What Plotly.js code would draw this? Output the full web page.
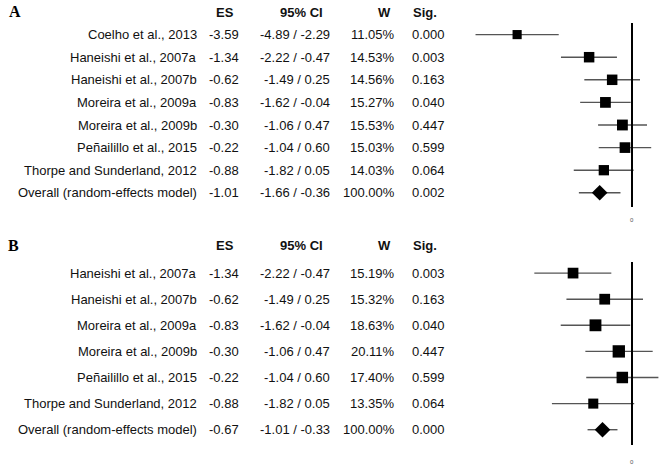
<!DOCTYPE html>
<html>
<head>
<meta charset="utf-8">
<script src="https://cdn.plot.ly/plotly-3.0.1.min.js"></script>
<style>html,body{margin:0;padding:0;background:#fff}</style>
</head>
<body>
<div id="chart" style="width:666px;height:473px"></div>
<script>
// ---------- Panel A data ----------
const studiesA = ["Coelho et al., 2013","Haneishi et al., 2007a","Haneishi et al., 2007b","Moreira et al., 2009a","Moreira et al., 2009b","Peñailillo et al., 2015","Thorpe and Sunderland, 2012","Overall (random-effects model)"];
const esA   = [-3.59,-1.34,-0.62,-0.83,-0.30,-0.22,-0.88,-1.01];
const loA   = [-4.89,-2.22,-1.49,-1.62,-1.06,-1.04,-1.82,-1.66];
const hiA   = [-2.29,-0.47, 0.25,-0.04, 0.47, 0.60, 0.05,-0.36];
const wA    = [11.05,14.53,14.56,15.27,15.53,15.03,14.03,100.00];
const sigA  = [0.000,0.003,0.163,0.040,0.447,0.599,0.064,0.002];

// ---------- Panel B data ----------
const studiesB = ["Haneishi et al., 2007a","Haneishi et al., 2007b","Moreira et al., 2009a","Moreira et al., 2009b","Peñailillo et al., 2015","Thorpe and Sunderland, 2012","Overall (random-effects model)"];
const esB   = [-1.34,-0.62,-0.83,-0.30,-0.22,-0.88,-0.67];
const loB   = [-2.22,-1.49,-1.62,-1.06,-1.04,-1.82,-1.01];
const hiB   = [-0.47, 0.25,-0.04, 0.47, 0.60, 0.05,-0.33];
const wB    = [15.19,15.32,18.63,20.11,17.40,13.35,100.00];
const sigB  = [0.003,0.163,0.040,0.447,0.599,0.064,0.000];

const headers = ["ES","95% CI","W","Sig."];
const panelLabels = ["A","B"];

// ---------- layout helpers ----------
const PW = 666, PH = 473;
const px = v => v / PW;
const py = v => 1 - v / PH;
const txtFont = {family:"Liberation Sans, Arial, sans-serif", size:13, color:"#111"};
const hdrFont = {family:"Liberation Sans, Arial, sans-serif", size:13, color:"#111"};

function fmt(v, d){ return v.toFixed(d); }

function panel(studies, es, lo, hi, w, sig, xa, ya, headerR, zeroR0, zeroR1, zeroLabelR){
  const n = studies.length;
  const rows = studies.map((_, i) => i + 1);
  const isOverall = rows.map(r => r === n);
  const sizes = w.map((v, i) => isOverall[i] ? 12 : 2.75 * Math.sqrt(v));
  const symbols = isOverall.map(o => o ? "diamond" : "square");
  const trace = {
    type: "scatter", mode: "markers", x: es, y: rows, xaxis: xa, yaxis: ya,
    marker: {symbol: symbols, size: sizes, color: "#000", opacity: 1, line: {width: 0}},
    error_x: {type: "data", symmetric: false,
      array: hi.map((h, i) => h - es[i]), arrayminus: es.map((e, i) => e - lo[i]),
      color: "#555", thickness: 1.4, width: 0},
    hoverinfo: "skip", showlegend: false
  };
  const yref = ya;
  const ann = [];
  rows.forEach((r, i) => {
    ann.push({xref:"paper", yref, x: px(199), y: r, xanchor:"right", yanchor:"middle", text: studies[i], showarrow:false, font: txtFont});
    ann.push({xref:"paper", yref, x: px(241), y: r, xanchor:"right", yanchor:"middle", text: fmt(es[i],2), showarrow:false, font: txtFont});
    ann.push({xref:"paper", yref, x: px(332), y: r, xanchor:"right", yanchor:"middle", text: fmt(lo[i],2) + " / " + fmt(hi[i],2), showarrow:false, font: txtFont});
    ann.push({xref:"paper", yref, x: px(397), y: r, xanchor:"right", yanchor:"middle", text: fmt(w[i],2) + "%", showarrow:false, font: txtFont});
    ann.push({xref:"paper", yref, x: px(410), y: r, xanchor:"left", yanchor:"middle", text: fmt(sig[i],3), showarrow:false, font: txtFont});
  });
  const hx = [224.5, 301, 384, 425];
  headers.forEach((h, k) => {
    ann.push({xref:"paper", yref, x: px(hx[k]), y: headerR, xanchor:"center", yanchor:"middle", text: "<b>" + h + "</b>", showarrow:false, font: hdrFont});
  });
  const xref = xa;
  ann.push({xref, yref, x: 0, y: zeroLabelR, xanchor:"center", yanchor:"middle", text: "0", showarrow:false, font:{family:"Liberation Sans, Arial", size:6, color:"#555"}});
  const shape = {type:"line", xref, yref, x0:0, x1:0, y0: zeroR0, y1: zeroR1, line:{color:"#000", width:2}};
  return {trace, ann, shape};
}

// Panel A: rows at py = 12 + r*22.6 ; domain py 0..230
const A = panel(studiesA, esA, loA, hiA, wA, sigA, "x", "y", 0, 0.49, 8.63, 9.2);
// Panel B: rows at py = 247 + r*26.1 ; domain py 230..473
const B = panel(studiesB, esB, loB, hiB, wB, sigB, "x2", "y2", -0.07, 0.575, 7.59, 8.24);

const labelAnn = [
  {xref:"paper", yref:"paper", x: px(7), y: py(12), xanchor:"left", yanchor:"middle", text:"<b>" + panelLabels[0] + "</b>", showarrow:false, font:{family:"Liberation Serif, Times New Roman, serif", size:16, color:"#000"}},
  {xref:"paper", yref:"paper", x: px(6), y: py(245), xanchor:"left", yanchor:"middle", text:"<b>" + panelLabels[1] + "</b>", showarrow:false, font:{family:"Liberation Serif, Times New Roman, serif", size:16, color:"#000"}}
];

const hidden = {showgrid:false, zeroline:false, showline:false, showticklabels:false, ticks:"", fixedrange:true};

const layout = {
  width: PW, height: PH,
  margin: {l:0, r:0, t:0, b:0},
  paper_bgcolor: "#fff", plot_bgcolor: "rgba(0,0,0,0)",
  showlegend: false,
  xaxis:  Object.assign({}, hidden, {domain:[px(440), 1], range:[(440-632)/32, (666-632)/32], anchor:"y"}),
  yaxis:  Object.assign({}, hidden, {domain:[py(230), 1], range:[(230-12)/22.6, (0-12)/22.6], anchor:"x"}),
  xaxis2: Object.assign({}, hidden, {domain:[px(440), 1], range:[(440-632)/44, (666-632)/44], anchor:"y2"}),
  yaxis2: Object.assign({}, hidden, {domain:[0, py(230)], range:[(473-247)/26.1, (230-247)/26.1], anchor:"x2"}),
  annotations: A.ann.concat(B.ann, labelAnn),
  shapes: [A.shape, B.shape]
};

Plotly.newPlot("chart", [A.trace, B.trace], layout, {displayModeBar:false, staticPlot:true});
</script>
</body>
</html>
